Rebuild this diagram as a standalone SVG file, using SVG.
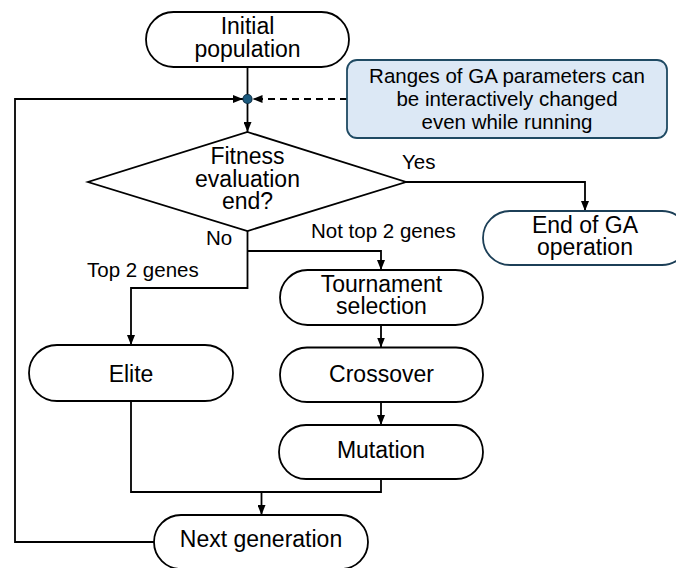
<svg xmlns="http://www.w3.org/2000/svg" width="676" height="568" viewBox="0 0 676 568">
<defs>
<marker id="ah" markerUnits="userSpaceOnUse" markerWidth="10" markerHeight="8" refX="10" refY="4" orient="auto">
<path d="M0,0 L10,4 L0,8 z" fill="#000"/>
</marker>
<style>
.node{fill:#fff;stroke:#000;stroke-width:1.8}
.t{font-family:"Liberation Sans",Arial,sans-serif;font-size:23px;fill:#000;text-anchor:middle}
.lbl{font-family:"Liberation Sans",Arial,sans-serif;font-size:20.5px;fill:#000}
.c{fill:none;stroke:#000;stroke-width:1.8}
</style>
</defs>
<rect width="676" height="568" fill="#fff"/>
<g id="connectors">
<path class="c" d="M247.5,67 V99"/>
<path class="c" d="M247.5,99 V132" marker-end="url(#ah)"/>
<path class="c" d="M154,542 H15 V99 H243" marker-end="url(#ah)"/>
<path class="c" d="M347,99 H252.5" stroke-dasharray="7,5" marker-end="url(#ah)"/>
<path class="c" d="M406,182 H585 V211" marker-end="url(#ah)"/>
<path class="c" d="M247.5,231 V288 H131 V345" marker-end="url(#ah)"/>
<path class="c" d="M247.5,251 H381 V270" marker-end="url(#ah)"/>
<path class="c" d="M381,325 V347.5" marker-end="url(#ah)"/>
<path class="c" d="M381,402 V425" marker-end="url(#ah)"/>
<path class="c" d="M131,401 V492 H381 V479"/>
<path class="c" d="M261.5,492 V515" marker-end="url(#ah)"/>
<circle cx="247.5" cy="99" r="4.5" fill="#1b5a7e" stroke="#0e3047" stroke-width="1.2"/>
<text class="lbl" x="402" y="169">Yes</text>
<text class="lbl" x="206" y="245">No</text>
<text class="lbl" x="87" y="277">Top 2 genes</text>
<text class="lbl" x="311" y="238">Not top 2 genes</text>
</g>
<g id="initial">
<rect class="node" x="146" y="12" width="203" height="55" rx="27.5"/>
<text class="t" x="247.5" y="34">Initial</text>
<text class="t" x="247.5" y="57">population</text>
</g>
<g id="note">
<rect x="347" y="60" width="320" height="78" rx="10" fill="#dce8f5" stroke="#1f4a63" stroke-width="1.8"/>
<text class="t" x="507" y="83" style="font-size:20.5px">Ranges of GA parameters can</text>
<text class="t" x="507" y="106" style="font-size:20.5px">be interactively changed</text>
<text class="t" x="507" y="129" style="font-size:20.5px">even while running</text>
</g>
<g id="decision">
<polygon class="node" points="247.5,132 406,182 247.5,231 88,182"/>
<text class="t" x="247.5" y="164">Fitness</text>
<text class="t" x="247.5" y="187">evaluation</text>
<text class="t" x="247.5" y="209">end?</text>
</g>
<g id="end">
<rect x="483" y="211" width="206" height="54" rx="27" fill="#fff" stroke="#1c3f57" stroke-width="1.8"/>
<text class="t" x="585" y="233">End of GA</text>
<text class="t" x="585" y="255">operation</text>
</g>
<g id="tournament">
<rect class="node" x="280" y="270" width="203" height="55" rx="27.5"/>
<text class="t" x="381.5" y="292">Tournament</text>
<text class="t" x="381.5" y="314">selection</text>
</g>
<g id="elite">
<rect class="node" x="29" y="345" width="204" height="56" rx="28"/>
<text class="t" x="131" y="382">Elite</text>
</g>
<g id="crossover">
<rect class="node" x="280" y="347.5" width="203" height="54.5" rx="27"/>
<text class="t" x="381.5" y="382">Crossover</text>
</g>
<g id="mutation">
<rect class="node" x="279" y="425" width="204" height="54" rx="27"/>
<text class="t" x="381" y="458">Mutation</text>
</g>
<g id="next">
<rect class="node" x="154" y="515" width="214" height="54" rx="27"/>
<text class="t" x="261" y="547">Next generation</text>
</g>
</svg>
